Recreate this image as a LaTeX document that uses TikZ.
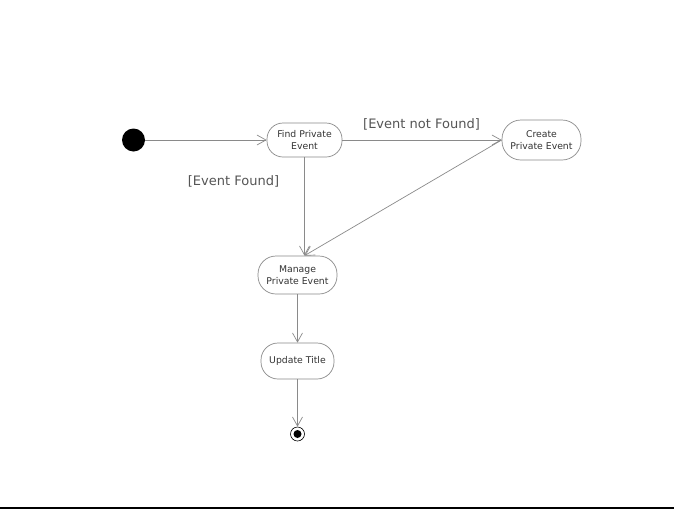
\documentclass[tikz,border=0pt]{standalone}
\usepackage{fontspec}
\setmainfont{DejaVu Sans}
\usetikzlibrary{arrows.meta}
\definecolor{edgegray}{HTML}{8A8A8A}
\definecolor{txtgray}{HTML}{333333}
\definecolor{lblgray}{HTML}{555555}
\tikzset{
  act/.style={draw=edgegray, line width=0.7pt, rectangle, rounded corners=#1, inner sep=1pt, align=center, font=\fontsize{9.3}{11.5}\selectfont, text=txtgray},
  flow/.style={draw=edgegray, line width=0.7pt, -{Straight Barb[length=9pt,width=10pt]}},
  guard/.style={font=\fontsize{13}{15}\selectfont, text=lblgray}
}
\begin{document}
\begin{tikzpicture}[x=1pt,y=-1pt]
\useasboundingbox (0,0) rectangle (674,509);
\fill[white] (0,0) rectangle (674,509);
\node[circle, fill=black, minimum size=23pt, inner sep=0pt] (init) at (133.5,140) {};
\node[act=16pt, minimum width=75pt, minimum height=34pt] (find) at (304.5,140) {Find Private\\Event};
\node[act=19pt, minimum width=79pt, minimum height=40pt] (create) at (541.5,140) {Create\\Private Event};
\node[act=18pt, minimum width=79pt, minimum height=38pt] (manage) at (297.5,275) {Manage\\Private Event};
\node[act=17pt, minimum width=73pt, minimum height=36pt] (update) at (297.5,361) {Update Title};
\node[circle, draw=black, line width=0.6pt, minimum size=14pt, inner sep=0pt] (final) at (297.5,434) {};
\fill[black] (final.center) circle (4pt);
\coordinate (mtop) at (manage.north -| find.south);
\node[guard] (lnf) at (421.5,124) {[Event not Found]};
\node[guard] (lf) at (233.5,181) {[Event Found]};
\draw[flow] (init) -- (find);
\draw[flow] (find) -- (create);
\draw[flow] (find.south) -- (mtop);
\draw[flow] (create.west) -- (mtop);
\draw[flow] (manage) -- (update);
\draw[flow] (update) -- (final);
\coordinate (bl) at (0,507.5);
\coordinate (br) at (674,507.5);
\draw[black, line width=2pt] (bl) -- (br);
\end{tikzpicture}
\end{document}
